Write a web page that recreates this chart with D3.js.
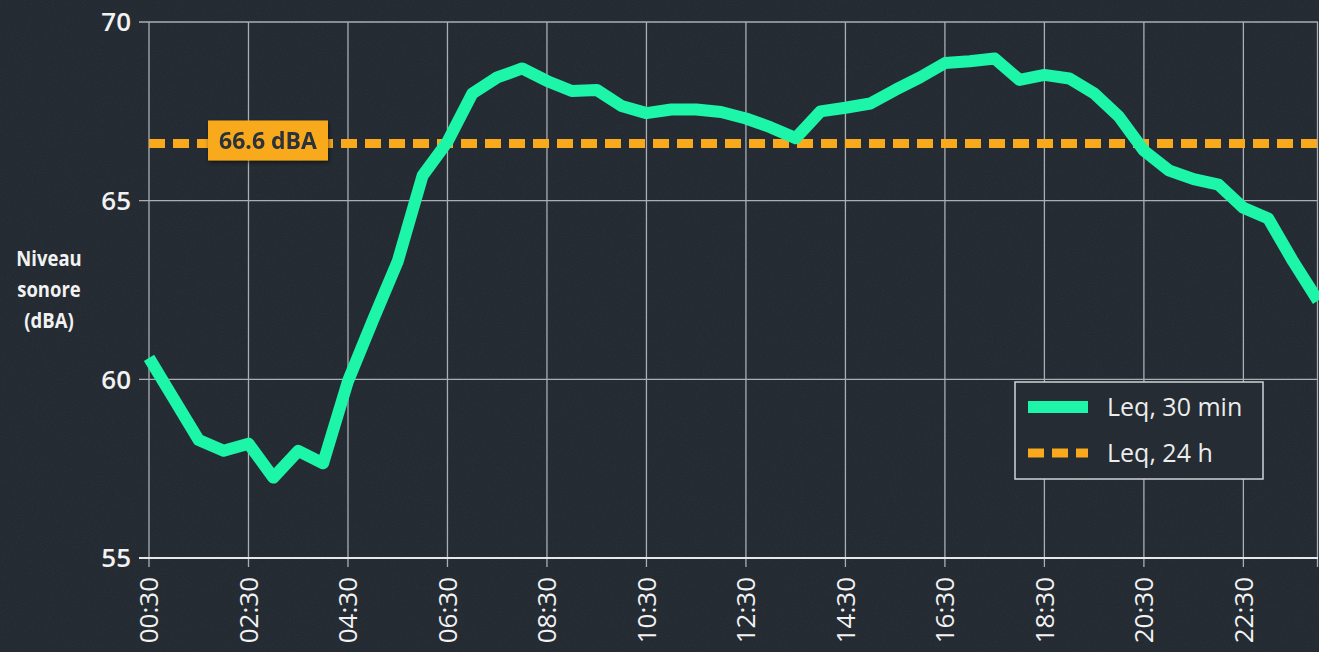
<!DOCTYPE html>
<html>
<head>
<meta charset="utf-8">
<script src="https://cdn.jsdelivr.net/npm/d3@7"></script>
<style>
  html, body { margin: 0; padding: 0; background: #21282f; }
  svg { display: block; }
</style>
</head>
<body>
<svg id="chart" width="1319" height="652"></svg>
<script>
// ---- data ----
var times = ["00:30","01:00","01:30","02:00","02:30","03:00","03:30","04:00",
             "04:30","05:00","05:30","06:00","06:30","07:00","07:30","08:00",
             "08:30","09:00","09:30","10:00","10:30","11:00","11:30","12:00",
             "12:30","13:00","13:30","14:00","14:30","15:00","15:30","16:00",
             "16:30","17:00","17:30","18:00","18:30","19:00","19:30","20:00",
             "20:30","21:00","21:30","22:00","22:30","23:00","23:30","24:00"];
var leq30 = [60.6, 59.45, 58.3, 58.0, 58.2, 57.25, 58.0, 57.65,
             59.95, 61.65, 63.3, 65.7, 66.65, 68.0, 68.45, 68.7,
             68.35, 68.07, 68.1, 67.65, 67.45, 67.55, 67.55, 67.48,
             67.3, 67.05, 66.75, 67.5, 67.6, 67.72, 68.1, 68.45,
             68.85, 68.9, 68.98, 68.38, 68.52, 68.42, 68.0, 67.35,
             66.4, 65.85, 65.6, 65.45, 64.8, 64.5, 63.3, 62.2];
var leq24 = 66.6;
var xTicks = ["00:30","02:30","04:30","06:30","08:30","10:30","12:30","14:30","16:30","18:30","20:30","22:30"];
var yTicks = [55, 60, 65, 70];
var yTitle = ["Niveau", "sonore", "(dBA)"];
var legendItems = ["Leq, 30 min", "Leq, 24 h"];

var green = "#1df5a8";
var orange = "#f8aa1c";
var gridColor = "#a9afb5";

var svg = d3.select("#chart");
var W = 1319, H = 652;
var margin = {left: 149, right: 1, top: 22, bottom: 94};

function toHours(t) {
  var p = t.split(":");
  return +p[0] + (+p[1]) / 60;
}

var x = d3.scaleLinear()
  .domain([toHours(times[0]), toHours(times[times.length - 1])])
  .range([margin.left, W - margin.right]);
var y = d3.scaleLinear()
  .domain([55, 70])
  .range([H - margin.bottom, margin.top]);

// background with a little grain
var defs = svg.append("defs");
var grain = defs.append("filter").attr("id", "grain").attr("x", 0).attr("y", 0).attr("width", "100%").attr("height", "100%");
grain.append("feTurbulence").attr("type", "fractalNoise").attr("baseFrequency", 0.9).attr("numOctaves", 2).attr("seed", 3);
grain.append("feColorMatrix").attr("type", "matrix")
  .attr("values", "0 0 0 0 0.5  0 0 0 0 0.55  0 0 0 0 0.6  0 0 0 0.07 0");
var shadow = defs.append("filter").attr("id", "shadow").attr("x", "-20%").attr("y", "-30%").attr("width", "140%").attr("height", "160%");
shadow.append("feDropShadow").attr("dx", 1).attr("dy", 2).attr("stdDeviation", 2).attr("flood-color", "#000").attr("flood-opacity", 0.5);

svg.append("rect").attr("width", W).attr("height", H).attr("fill", "#1f262d");
svg.append("rect").attr("width", W).attr("height", H).attr("filter", "url(#grain)");

// ---- grid ----
var grid = svg.append("g");
grid.selectAll("line.v")
  .data(xTicks)
  .enter().append("line")
  .attr("x1", function(d) { return x(toHours(d)); })
  .attr("x2", function(d) { return x(toHours(d)); })
  .attr("y1", y(70))
  .attr("y2", y(55) + 9)
  .attr("stroke", gridColor)
  .attr("stroke-width", 1.3);
// right border
grid.append("line")
  .attr("x1", x.range()[1] - 0.5).attr("x2", x.range()[1] - 0.5)
  .attr("y1", y(70)).attr("y2", y(55) + 9)
  .attr("stroke", gridColor).attr("stroke-width", 1.3);
grid.selectAll("line.h")
  .data(yTicks)
  .enter().append("line")
  .attr("x1", margin.left - 10)
  .attr("x2", x.range()[1])
  .attr("y1", function(d) { return y(d); })
  .attr("y2", function(d) { return y(d); })
  .attr("stroke", function(d) { return d == 55 ? "#e6e8ea" : gridColor; })
  .attr("stroke-width", function(d) { return d == 55 ? 2.2 : 1.3; });

// ---- y tick labels ----
svg.append("g").selectAll("text")
  .data(yTicks)
  .enter().append("text")
  .attr("x", 131)
  .attr("y", function(d) { return y(d); })
  .attr("dy", "0.36em")
  .attr("text-anchor", "end")
  .attr("fill", "#f2f2f2")
  .attr("font-family", "'Open Sans', sans-serif")
  .attr("font-weight", 600)
  .attr("font-size", 26)
  .text(function(d) { return d; });

// y title (condensed look)
svg.append("g").selectAll("text")
  .data(yTitle)
  .enter().append("text")
  .attr("x", 49)
  .attr("y", function(d, i) { return 266 + i * 31; })
  .attr("text-anchor", "middle")
  .attr("fill", "#f2f2f2")
  .attr("font-family", "'Open Sans', sans-serif")
  .attr("font-weight", 700)
  .attr("font-size", 22)
  .attr("transform", "translate(49,0) scale(0.84,1) translate(-49,0)")
  .text(function(d) { return d; });

// ---- x tick labels ----
svg.append("g").selectAll("text")
  .data(xTicks)
  .enter().append("text")
  .attr("transform", function(d) { return "translate(" + x(toHours(d)) + "," + 577 + ") rotate(-90)"; })
  .attr("dy", "0.36em")
  .attr("text-anchor", "end")
  .attr("fill", "#f2f2f2")
  .attr("font-family", "'Open Sans', sans-serif")
  .attr("font-size", 26)
  .text(function(d) { return d; });

// ---- 24h reference line ----
svg.append("line")
  .attr("x1", x.range()[0]).attr("x2", x.range()[1])
  .attr("y1", y(leq24)).attr("y2", y(leq24))
  .attr("stroke", orange)
  .attr("stroke-width", 9)
  .attr("stroke-dasharray", "16,8");

// ---- 30 min series ----
var line = d3.line()
  .x(function(d, i) { return x(toHours(times[i])); })
  .y(function(d) { return y(d); });
svg.append("path")
  .datum(leq30)
  .attr("d", line)
  .attr("fill", "none")
  .attr("stroke", green)
  .attr("stroke-width", 12)
  .attr("stroke-linejoin", "round");

// ---- 66.6 dBA label ----
var lab = svg.append("g").attr("filter", "url(#shadow)");
lab.append("rect")
  .attr("x", 208).attr("y", y(leq24) - 23)
  .attr("width", 120).attr("height", 40)
  .attr("fill", orange);
lab.append("text")
  .attr("x", 268).attr("y", y(leq24) - 3)
  .attr("dy", "0.36em")
  .attr("text-anchor", "middle")
  .attr("fill", "#2b313a")
  .attr("font-family", "'Open Sans', sans-serif")
  .attr("font-weight", 700)
  .attr("font-size", 23)
  .text(leq24 + " dBA");

// ---- legend ----
var lg = svg.append("g").attr("transform", "translate(1015,382)");
lg.append("rect")
  .attr("width", 248).attr("height", 97)
  .attr("fill", "#252c34")
  .attr("stroke", "#d0d3d6")
  .attr("stroke-width", 1.5);
lg.append("line")
  .attr("x1", 13).attr("x2", 73).attr("y1", 25).attr("y2", 25)
  .attr("stroke", green).attr("stroke-width", 12);
lg.append("line")
  .attr("x1", 13).attr("x2", 73).attr("y1", 71).attr("y2", 71)
  .attr("stroke", orange).attr("stroke-width", 9)
  .attr("stroke-dasharray", "16,8");
lg.selectAll("text.item")
  .data(legendItems)
  .enter().append("text")
  .attr("x", 92)
  .attr("y", function(d, i) { return 25 + i * 46; })
  .attr("dy", "0.36em")
  .attr("fill", "#ececec")
  .attr("font-family", "'Open Sans', sans-serif")
  .attr("font-size", 25)
  .text(function(d) { return d; });
</script>
</body>
</html>
